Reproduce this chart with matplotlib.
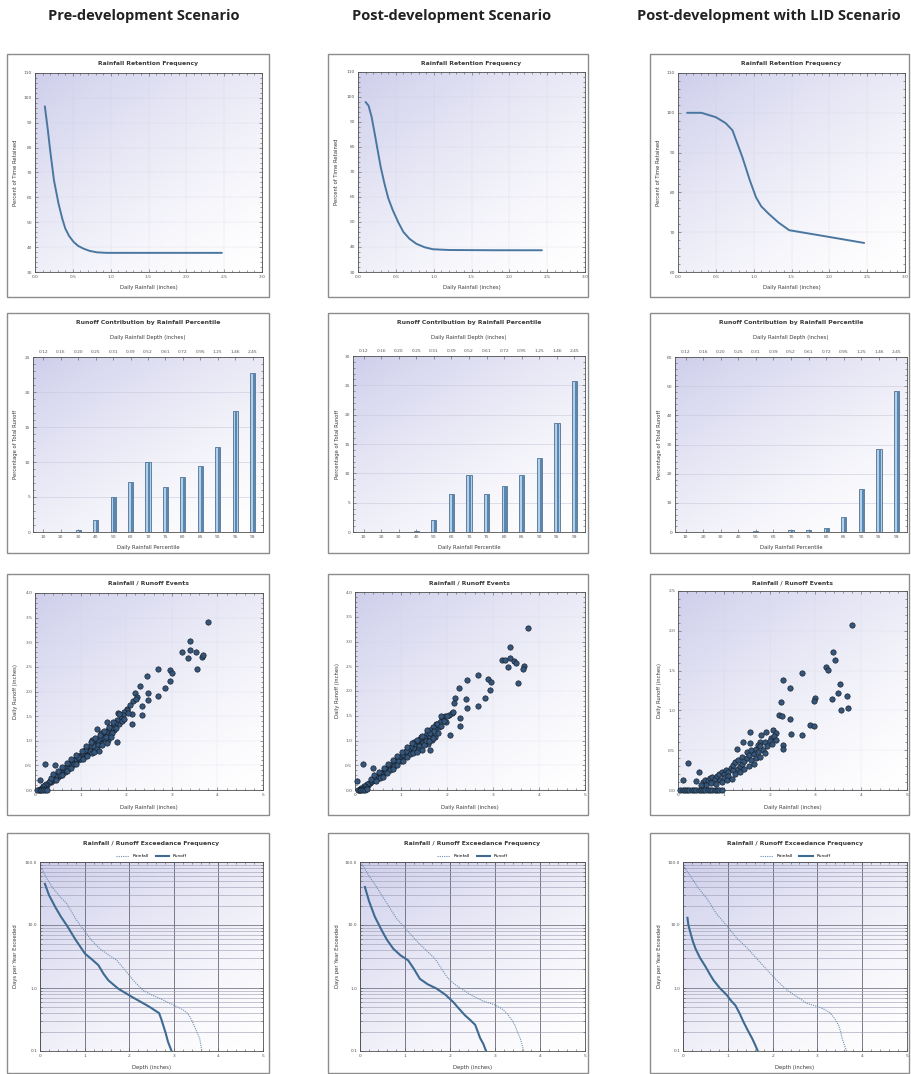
import matplotlib

matplotlib.use("Agg")
import matplotlib.pyplot as plt
import numpy as np
from matplotlib.colors import LinearSegmentedColormap
from matplotlib.lines import Line2D
from matplotlib.patches import Rectangle
from matplotlib.ticker import AutoMinorLocator, FixedLocator, FuncFormatter, LogLocator, MultipleLocator, NullFormatter

W, H = 911, 1074

scenarios = ["Pre-development Scenario", "Post-development Scenario", "Post-development with LID Scenario"]

# --- row 1: rainfall retention frequency
ret_pre_x = [0.13, 0.17, 0.20, 0.25, 0.31, 0.36, 0.40, 0.45, 0.51, 0.57, 0.64, 0.72, 0.82, 0.95, 1.2, 1.8, 2.47]
ret_pre_y = [96.6, 87, 79, 67, 57.6, 51.5, 47.5, 44.5, 42.1, 40.5, 39.4, 38.5, 37.9, 37.7, 37.7, 37.7, 37.7]
ret_post_x = [0.10, 0.14, 0.18, 0.22, 0.26, 0.30, 0.35, 0.40, 0.46, 0.53, 0.60, 0.68, 0.77, 0.88, 0.99, 1.2, 1.8, 2.43]
ret_post_y = [98, 96.5, 92, 85.5, 78.7, 72, 65.3, 59.5, 54.7, 50, 46, 43.3, 41.3, 39.9, 39.1, 38.8, 38.7, 38.7]
ret_lid_x = [0.12, 0.31, 0.50, 0.63, 0.72, 0.78, 0.85, 0.95, 1.03, 1.10, 1.20, 1.33, 1.47, 2.0, 2.46]
ret_lid_y = [100, 100, 98.9, 97.4, 95.6, 92.5, 88.9, 83.0, 78.8, 76.5, 74.6, 72.4, 70.5, 68.8, 67.3]
ret_ylims = [(30, 110), (30, 110), (60, 110)]

# --- row 2: runoff contribution by rainfall percentile
percentiles = ["10", "20", "30", "40", "50", "60", "70", "75", "80", "85", "90", "95", "99"]
depths = ["0.12", "0.16", "0.20", "0.25", "0.31", "0.39", "0.52", "0.61", "0.72", "0.95", "1.25", "1.46", "2.45"]
contrib_pre = [0.0, 0.05, 0.3, 1.65, 4.98, 7.2, 9.95, 6.5, 7.8, 9.5, 12.2, 17.3, 22.65]
contrib_post = [0.0, 0.05, 0.0, 0.15, 2.0, 6.5, 9.8, 6.4, 7.8, 9.7, 12.6, 18.6, 25.7]
contrib_lid = [0.0, 0.1, 0.0, 0.0, 0.3, 0.0, 0.6, 0.8, 1.4, 5.2, 14.9, 28.3, 48.5]
contrib_ymax = [25, 30, 60]
contrib_step = [5, 5, 10]

# --- row 3: rainfall / runoff events (rainfall, runoff)
events_pre = [
    (3.80, 3.41), (3.39, 3.03), (3.23, 2.80), (3.41, 2.85), (3.54, 2.80), (3.36, 2.68), (3.67, 2.70),
    (3.69, 2.75), (3.56, 2.45), (2.70, 2.46), (2.97, 2.43), (3.01, 2.38), (2.96, 2.22), (2.45, 2.32),
    (2.86, 2.07), (2.30, 2.11), (2.47, 1.97), (2.70, 1.91), (2.47, 1.82), (2.20, 1.97), (2.23, 1.89),
    (2.34, 1.70), (2.34, 1.52), (2.12, 1.55), (2.01, 1.64), (2.12, 1.35), (1.82, 1.57), (1.79, 0.98),
    (1.57, 1.38), (1.35, 1.23), (1.50, 1.03), (1.61, 1.01), (1.24, 1.01), (0.23, 0.53), (0.44, 0.50),
    (0.11, 0.20), (2.15, 1.80), (2.22, 1.85), (2.08, 1.72), (2.02, 1.63), (1.96, 1.58), (1.92, 1.52),
    (1.88, 1.47), (1.84, 1.34), (1.80, 1.42), (1.76, 1.36), (1.73, 1.22), (1.70, 1.30), (1.66, 1.26),
    (1.63, 1.12), (1.60, 1.21), (1.56, 1.17), (1.53, 1.03), (1.50, 1.12), (1.46, 1.08), (1.43, 0.95),
    (1.40, 1.04), (1.36, 1.00), (1.33, 0.88), (1.30, 0.96), (1.28, 0.93), (1.25, 0.82), (1.23, 0.90),
    (1.20, 0.87), (1.18, 0.77), (1.15, 0.84), (1.12, 0.81), (1.10, 0.70), (1.08, 0.78), (1.05, 0.75),
    (1.02, 0.65), (1.00, 0.72), (0.97, 0.69), (0.95, 0.60), (0.92, 0.66), (0.90, 0.63), (0.87, 0.55),
    (0.85, 0.60), (0.82, 0.57), (0.80, 0.49), (0.77, 0.54), (0.75, 0.52), (0.72, 0.43), (0.70, 0.48),
    (0.67, 0.45), (0.65, 0.37), (0.62, 0.42), (0.60, 0.40), (0.57, 0.31), (0.55, 0.36), (0.52, 0.34),
    (0.50, 0.27), (0.47, 0.31), (0.45, 0.28), (0.42, 0.21), (0.40, 0.25), (0.37, 0.22), (0.35, 0.17),
    (0.32, 0.19), (0.30, 0.16), (0.27, 0.10), (0.25, 0.13), (0.22, 0.11), (0.20, 0.06), (0.18, 0.08),
    (0.15, 0.05), (0.12, 0.02), (0.08, 0.00), (0.05, 0.00), (0.10, 0.00), (0.14, 0.00), (0.18, 0.00),
    (0.22, 0.00), (0.26, 0.01), (0.35, 0.24), (0.55, 0.30), (0.65, 0.44), (0.85, 0.52), (1.00, 0.62),
    (1.20, 0.80), (0.45, 0.20), (0.75, 0.45), (0.95, 0.68), (1.10, 0.82), (1.30, 0.90), (1.45, 1.15),
    (1.55, 1.08), (1.62, 1.28), (1.72, 1.38), (1.78, 1.25), (1.90, 1.40), (1.68, 1.16), (1.38, 0.92),
    (0.60, 0.30), (0.70, 0.38), (0.80, 0.44), (0.90, 0.52), (1.05, 0.62), (1.15, 0.70), (1.25, 0.76),
    (1.35, 0.84), (0.40, 0.32), (0.50, 0.38), (0.60, 0.47), (0.70, 0.55), (0.80, 0.62), (0.90, 0.72),
    (1.02, 0.80), (1.12, 0.90), (1.22, 0.98), (1.32, 1.05), (1.42, 1.12), (1.52, 1.20), (1.85, 1.55),
    (1.58, 0.96), (1.48, 0.92), (1.66, 1.08), (1.96, 1.45), (2.05, 1.56), (1.40, 0.80), (1.30, 0.78),
]
events_post = [
    (3.76, 3.28), (3.37, 2.89), (3.20, 2.63), (3.26, 2.63), (3.38, 2.67), (3.46, 2.61), (3.51, 2.57),
    (3.33, 2.49), (3.68, 2.50), (3.66, 2.45), (3.54, 2.17), (2.43, 2.22), (2.67, 2.32), (2.90, 2.25),
    (2.96, 2.18), (2.26, 2.06), (2.93, 2.02), (2.41, 1.83), (2.83, 1.85), (2.17, 1.85), (2.15, 1.75),
    (2.43, 1.65), (2.67, 1.69), (2.28, 1.46), (2.29, 1.29), (2.06, 1.11), (1.95, 1.49), (2.10, 1.55),
    (1.76, 1.34), (1.73, 1.08), (1.62, 0.81), (1.58, 0.92), (1.29, 0.97), (0.18, 0.52), (0.39, 0.45),
    (0.05, 0.19), (2.05, 1.52), (2.12, 1.57), (2.00, 1.50), (1.90, 1.44), (1.85, 1.38), (1.82, 1.27),
    (1.78, 1.33), (1.74, 1.24), (1.70, 1.28), (1.66, 1.14), (1.63, 1.22), (1.60, 1.10), (1.56, 1.15),
    (1.52, 1.02), (1.49, 1.08), (1.45, 0.96), (1.42, 1.04), (1.38, 0.92), (1.35, 0.98), (1.32, 0.86),
    (1.28, 0.91), (1.25, 0.82), (1.22, 0.86), (1.18, 0.76), (1.15, 0.80), (1.12, 0.70), (1.08, 0.74),
    (1.05, 0.66), (1.02, 0.70), (0.98, 0.62), (0.95, 0.65), (0.92, 0.56), (0.90, 0.61), (0.87, 0.52),
    (0.84, 0.55), (0.80, 0.47), (0.78, 0.51), (0.75, 0.44), (0.72, 0.46), (0.70, 0.40), (0.67, 0.42),
    (0.64, 0.36), (0.62, 0.38), (0.60, 0.32), (0.57, 0.34), (0.54, 0.29), (0.52, 0.30), (0.49, 0.25),
    (0.46, 0.26), (0.44, 0.21), (0.41, 0.23), (0.38, 0.18), (0.36, 0.19), (0.33, 0.14), (0.30, 0.15),
    (0.28, 0.11), (0.25, 0.12), (0.22, 0.08), (0.20, 0.09), (0.17, 0.05), (0.14, 0.04), (0.11, 0.02),
    (0.08, 0.01), (0.06, 0.00), (0.10, 0.00), (0.14, 0.00), (0.18, 0.00), (0.22, 0.00), (0.26, 0.02),
    (0.35, 0.22), (0.55, 0.25), (0.68, 0.36), (0.85, 0.49), (1.00, 0.58), (1.20, 0.72), (0.45, 0.18),
    (0.76, 0.40), (0.94, 0.58), (1.10, 0.78), (1.30, 0.82), (1.44, 1.08), (1.55, 0.98), (1.62, 1.16),
    (1.72, 1.20), (1.80, 1.15), (1.88, 1.30), (1.68, 1.02), (1.40, 0.88), (1.98, 1.38),
    (0.60, 0.27), (0.70, 0.35), (0.82, 0.42), (0.92, 0.50), (1.04, 0.58), (1.14, 0.66), (1.26, 0.74),
    (1.36, 0.80), (0.42, 0.30), (0.52, 0.36), (0.62, 0.44), (0.72, 0.52), (0.82, 0.60), (0.92, 0.68),
    (1.03, 0.77), (1.13, 0.86), (1.24, 0.94), (1.34, 1.02), (1.46, 1.10), (1.56, 1.22), (1.86, 1.50),
    (1.60, 0.98), (1.50, 0.90), (1.70, 1.06), (1.94, 1.40), (1.46, 0.80), (1.34, 0.76),
]
events_lid = [
    (3.80, 2.07), (3.39, 1.73), (3.42, 1.63), (3.23, 1.54), (3.27, 1.51), (2.70, 1.47), (2.30, 1.38),
    (2.45, 1.28), (3.53, 1.33), (3.49, 1.22), (3.69, 1.18), (3.36, 1.14), (3.00, 1.15), (2.96, 1.12),
    (2.25, 1.10), (3.56, 1.00), (3.71, 1.03), (2.21, 0.94), (2.26, 0.93), (2.45, 0.89), (2.88, 0.82),
    (2.96, 0.81), (2.08, 0.75), (2.15, 0.72), (2.46, 0.70), (2.70, 0.69), (1.57, 0.73), (1.82, 0.69),
    (1.93, 0.73), (2.04, 0.65), (2.30, 0.56), (2.30, 0.51), (1.58, 0.59), (1.79, 0.60), (1.41, 0.60),
    (1.28, 0.52), (0.22, 0.34), (0.45, 0.22), (0.11, 0.12), (0.40, 0.11), (0.55, 0.10), (0.60, 0.12),
    (0.65, 0.13), (0.70, 0.15), (0.75, 0.16), (0.80, 0.14), (0.85, 0.18), (0.90, 0.20), (0.92, 0.12),
    (0.95, 0.22), (1.00, 0.20), (1.00, 0.15), (1.05, 0.25), (1.10, 0.22), (1.10, 0.17), (1.15, 0.28),
    (1.20, 0.25), (1.20, 0.32), (1.25, 0.20), (1.25, 0.35), (1.30, 0.27), (1.30, 0.38), (1.35, 0.30),
    (1.35, 0.22), (1.40, 0.42), (1.40, 0.33), (1.45, 0.36), (1.45, 0.26), (1.50, 0.40), (1.50, 0.48),
    (1.55, 0.30), (1.55, 0.44), (1.60, 0.38), (1.60, 0.50), (1.65, 0.45), (1.65, 0.33), (1.70, 0.52),
    (1.70, 0.40), (1.75, 0.48), (1.75, 0.57), (1.80, 0.42), (1.80, 0.55), (1.85, 0.50), (1.90, 0.47),
    (1.90, 0.60), (1.95, 0.55), (2.00, 0.62), (2.05, 0.58), (2.10, 0.68), (2.15, 0.63), (0.62, 0.06),
    (0.72, 0.09), (0.82, 0.08), (0.97, 0.10), (1.08, 0.12), (1.18, 0.14), (0.50, 0.06), (0.05, 0.0),
    (0.10, 0.0), (0.15, 0.0), (0.20, 0.0), (0.25, 0.0), (0.30, 0.0), (0.35, 0.0), (0.40, 0.0),
    (0.45, 0.0), (0.50, 0.0), (0.55, 0.0), (0.60, 0.0), (0.65, 0.0), (0.70, 0.0), (0.75, 0.0),
    (0.80, 0.0), (0.85, 0.0), (0.90, 0.0), (0.95, 0.0),
]
events_ylims = [4.0, 4.0, 2.5]

# --- row 4: exceedance frequency (depth, days per year)
exc_rain_pre_x = [0.04, 0.15, 0.30, 0.45, 0.60, 0.80, 1.01, 1.15, 1.34, 1.55, 1.72, 1.94, 2.10, 2.31, 2.50,
                  2.69, 2.85, 2.99, 3.21, 3.30, 3.36, 3.42, 3.47, 3.53, 3.58, 3.63]
exc_rain_pre_y = [78, 55, 37.8, 28, 21.9, 12.5, 7.8, 5.8, 4.2, 3.3, 2.76, 1.8, 1.3, 0.92, 0.78,
                  0.68, 0.60, 0.54, 0.45, 0.40, 0.35, 0.29, 0.24, 0.19, 0.158, 0.1]
exc_run_pre_x = [0.11, 0.20, 0.34, 0.47, 0.60, 0.80, 1.01, 1.15, 1.31, 1.42, 1.53, 1.75, 2.05, 2.30, 2.46,
                 2.60, 2.67, 2.72, 2.76, 2.82, 2.87, 2.95]
exc_run_pre_y = [45, 30, 19.4, 13.5, 9.9, 5.8, 3.5, 2.9, 2.3, 1.7, 1.33, 0.98, 0.73, 0.58, 0.50,
                 0.43, 0.40, 0.32, 0.26, 0.19, 0.14, 0.1]
exc_rain_post_x = [0.04, 0.20, 0.37, 0.60, 0.80, 1.04, 1.30, 1.50, 1.67, 1.93, 2.10, 2.30, 2.50, 2.74, 3.00,
                   3.15, 3.26, 3.36, 3.44, 3.50, 3.56, 3.64]
exc_rain_post_y = [94, 60, 40, 22, 13, 8.3, 5.2, 3.8, 2.9, 1.5, 1.15, 0.92, 0.75, 0.62, 0.54,
                   0.47, 0.40, 0.32, 0.26, 0.20, 0.16, 0.1]
exc_run_post_x = [0.11, 0.20, 0.33, 0.48, 0.60, 0.74, 0.90, 1.07, 1.20, 1.33, 1.50, 1.70, 1.90, 2.07, 2.20,
                  2.33, 2.45, 2.56, 2.62, 2.67, 2.74, 2.80]
exc_run_post_y = [40, 24, 13.5, 8.3, 5.8, 4.2, 3.3, 2.75, 2.0, 1.4, 1.15, 0.98, 0.78, 0.60, 0.47,
                  0.37, 0.31, 0.26, 0.20, 0.16, 0.13, 0.1]
exc_rain_lid_x = [0.03, 0.20, 0.35, 0.54, 0.75, 1.00, 1.20, 1.45, 1.65, 2.02, 2.15, 2.32, 2.55, 2.77, 3.03,
                  3.18, 3.29, 3.38, 3.47, 3.52, 3.55, 3.65]
exc_rain_lid_y = [83, 55, 38, 26, 15, 9.3, 6.2, 4.2, 2.9, 1.5, 1.2, 0.93, 0.72, 0.57, 0.50,
                  0.45, 0.40, 0.33, 0.26, 0.20, 0.16, 0.1]
exc_run_lid_x = [0.10, 0.12, 0.16, 0.22, 0.28, 0.38, 0.50, 0.60, 0.68, 0.82, 0.98, 1.08, 1.17, 1.26, 1.35,
                 1.45, 1.54, 1.60, 1.67]
exc_run_lid_y = [13, 10, 7.8, 5.5, 4.2, 3.0, 2.2, 1.65, 1.33, 1.0, 0.77, 0.62, 0.53, 0.40, 0.29,
                 0.21, 0.16, 0.13, 0.1]

# layout in pixels
col_box = [(7, 269), (328, 588), (650, 909)]
row_box = [(54, 297), (313, 553), (574, 815), (833, 1073)]
axes_px = [
    [(35, 73, 262, 272), (358, 72, 585, 272), (678, 73, 905, 272)],
    [(33, 357, 263, 532), (353, 356, 585, 532), (675, 357, 907, 532)],
    [(35, 593, 263, 790), (355, 592, 585, 790), (678, 591, 907, 790)],
    [(40, 862, 263, 1051), (360, 862, 585, 1051), (683, 862, 907, 1051)],
]
header_x = [144, 452, 769]

LINE = "#4a77a0"
grad_cmap = LinearSegmentedColormap.from_list("bg", ["#ffffff", "#cfcfec"])


def frac(l, t, r, b):
    return [l / W, 1 - b / H, (r - l) / W, (b - t) / H]


def fx(x):
    return x / W


def fy(y):
    return 1 - y / H


def panel_axes(fig, rect_px):
    rect = frac(*rect_px)
    bg = fig.add_axes(rect, zorder=0)
    xx, yy = np.meshgrid(np.linspace(0, 1, 120), np.linspace(1, 0, 120))
    bg.imshow((0.55 * yy + 0.45 * (1 - xx)) ** 1.4, cmap=grad_cmap, aspect="auto", vmin=0, vmax=1)
    bg.axis("off")
    ax = fig.add_axes(rect, zorder=1)
    ax.patch.set_alpha(0)
    for s in ax.spines.values():
        s.set_color("#505050")
        s.set_linewidth(0.6)
    ax.tick_params(which="both", direction="in", top=True, right=True, labelsize=3.2,
                   labelcolor="#555555", color="#505050", width=0.4, pad=2)
    ax.tick_params(which="major", length=2.5)
    ax.tick_params(which="minor", length=1.2)
    return ax


def labels(fig, rect_px, col, title, xlabel, ylabel, title_y, xlabel_y):
    l, t, r, b = rect_px
    cx = (l + r) / 2
    fig.text(fx(cx), fy(title_y), title, fontsize=4.4, fontweight="bold", color="#3a3a3a",
             ha="center", va="center")
    fig.text(fx(cx), fy(xlabel_y), xlabel, fontsize=3.8, color="#3a3a3a", ha="center", va="center")
    fig.text(fx(col_box[col][0] + 9), fy((t + b) / 2), ylabel, fontsize=3.8, color="#3a3a3a",
             ha="center", va="center", rotation=90)


fig = plt.figure(figsize=(W / 100, H / 100), dpi=100)

for c, name in enumerate(scenarios):
    fig.text(fx(header_x[c]), fy(16), name, fontsize=10.5, fontweight="bold", family="Open Sans",
             color="#222222", ha="center", va="center")
    for r in range(4):
        x0, x1 = col_box[c]
        y0, y1 = row_box[r]
        fig.patches.append(Rectangle((fx(x0), fy(y1)), fx(x1 - x0), (y1 - y0) / H, transform=fig.transFigure,
                                     facecolor="white", edgecolor="#8c8c8c", linewidth=1.0, zorder=-1))

# row 1
ret_series = [(ret_pre_x, ret_pre_y), (ret_post_x, ret_post_y), (ret_lid_x, ret_lid_y)]
for c, (xs, ys) in enumerate(ret_series):
    ax = panel_axes(fig, axes_px[0][c])
    ax.plot(xs, ys, color=LINE, linewidth=1.4, solid_capstyle="round")
    ax.set_xlim(0, 3.0)
    ax.set_ylim(*ret_ylims[c])
    ax.xaxis.set_major_locator(MultipleLocator(0.5))
    ax.yaxis.set_major_locator(MultipleLocator(10))
    ax.xaxis.set_minor_locator(AutoMinorLocator(5))
    ax.yaxis.set_minor_locator(AutoMinorLocator(5))
    ax.xaxis.set_major_formatter(FuncFormatter(lambda v, p: f"{v:.1f}"))
    ax.yaxis.set_major_formatter(FuncFormatter(lambda v, p: f"{v:.0f}"))
    ax.grid(True, color="#c9c9dd", linewidth=0.3, linestyle=(0, (2, 2)))
    labels(fig, axes_px[0][c], c, "Rainfall Retention Frequency", "Daily Rainfall (inches)",
           "Percent of Time Retained", 64, 288)

# row 2
contrib = [contrib_pre, contrib_post, contrib_lid]
pos = np.arange(len(percentiles))
for c, vals in enumerate(contrib):
    ax = panel_axes(fig, axes_px[1][c])
    ax.bar(pos, vals, width=0.3, color="#b2d0ea", edgecolor="#35597c", linewidth=0.5, zorder=3)
    ax.bar(pos + 0.075, vals, width=0.12, color="#5888b2", linewidth=0, zorder=4)
    ax.set_xlim(-0.6, len(percentiles) - 0.4)
    ax.set_ylim(0, contrib_ymax[c])
    ax.set_xticks(pos)
    ax.set_xticklabels(percentiles)
    ax.yaxis.set_major_locator(MultipleLocator(contrib_step[c]))
    ax.yaxis.set_minor_locator(AutoMinorLocator(5))
    ax.tick_params(axis="x", top=False)
    ax.grid(True, axis="y", color="#c9c9dd", linewidth=0.4)
    top = ax.twiny()
    top.set_xlim(ax.get_xlim())
    top.set_xticks(pos)
    top.set_xticklabels(depths)
    top.tick_params(direction="in", labelsize=3.2, labelcolor="#555555", color="#505050", width=0.4,
                    length=2.5, pad=2)
    for s in top.spines.values():
        s.set_visible(False)
    l, t, r, b = axes_px[1][c]
    fig.text(fx((l + r) / 2), fy(337), "Daily Rainfall Depth (inches)", fontsize=3.8, color="#3a3a3a",
             ha="center", va="center")
    labels(fig, axes_px[1][c], c, "Runoff Contribution by Rainfall Percentile", "Daily Rainfall Percentile",
           "Percentage of Total Runoff", 323, 548)

# row 3
events = [events_pre, events_post, events_lid]
for c, ev in enumerate(events):
    ax = panel_axes(fig, axes_px[2][c])
    xs = [e[0] for e in ev]
    ys = [e[1] for e in ev]
    ax.scatter(xs, ys, s=15, facecolor="#35567a", edgecolor="#141c26", linewidth=0.45, zorder=3, clip_on=False)
    ax.set_xlim(0, 5)
    ax.set_ylim(0, events_ylims[c])
    ax.xaxis.set_major_locator(MultipleLocator(1))
    ax.yaxis.set_major_locator(MultipleLocator(0.5))
    ax.xaxis.set_minor_locator(AutoMinorLocator(5))
    ax.yaxis.set_minor_locator(AutoMinorLocator(5))
    ax.xaxis.set_major_formatter(FuncFormatter(lambda v, p: f"{v:.0f}"))
    ax.yaxis.set_major_formatter(FuncFormatter(lambda v, p: f"{v:.1f}"))
    ax.grid(True, color="#d0d0e2", linewidth=0.3, linestyle=(0, (2, 2)))
    labels(fig, axes_px[2][c], c, "Rainfall / Runoff Events", "Daily Rainfall (inches)",
           "Daily Runoff (inches)", 583, 808)

# row 4
exceed = [
    (exc_rain_pre_x, exc_rain_pre_y, exc_run_pre_x, exc_run_pre_y),
    (exc_rain_post_x, exc_rain_post_y, exc_run_post_x, exc_run_post_y),
    (exc_rain_lid_x, exc_rain_lid_y, exc_run_lid_x, exc_run_lid_y),
]
for c, (rx, ry, ux, uy) in enumerate(exceed):
    ax = panel_axes(fig, axes_px[3][c])
    ax.set_yscale("log")
    ax.plot(rx, ry, color="#6d8fb0", linewidth=0.8, linestyle=(0, (1, 1)), zorder=3)
    ax.plot(ux, uy, color="#3f6a91", linewidth=1.5, zorder=4)
    ax.set_xlim(0, 5)
    ax.set_ylim(0.1, 100)
    ax.xaxis.set_major_locator(MultipleLocator(1))
    ax.xaxis.set_minor_locator(AutoMinorLocator(5))
    ax.xaxis.set_major_formatter(FuncFormatter(lambda v, p: f"{v:.0f}"))
    ax.yaxis.set_major_locator(FixedLocator([0.1, 1, 10, 100]))
    ax.yaxis.set_major_formatter(FuncFormatter(lambda v, p: f"{v:.1f}"))
    ax.yaxis.set_minor_locator(LogLocator(base=10, subs=np.arange(2, 10)))
    ax.yaxis.set_minor_formatter(NullFormatter())
    ax.grid(True, which="major", axis="x", color="#666677", linewidth=0.6)
    ax.grid(True, which="major", axis="y", color="#77778c", linewidth=0.6)
    ax.grid(True, which="minor", axis="y", color="#9a9ab0", linewidth=0.4)
    handles = [Line2D([], [], color="#6d8fb0", linewidth=0.8, linestyle=(0, (1, 1))),
               Line2D([], [], color="#3f6a91", linewidth=1.5)]
    ax.legend(handles, ["Rainfall", "Runoff"], loc="lower center", bbox_to_anchor=(0.5, 1.005), ncol=2,
              frameon=False, fontsize=3.2, handlelength=3, columnspacing=1.5, borderpad=0.1)
    labels(fig, axes_px[3][c], c, "Rainfall / Runoff Exceedance Frequency", "Depth (inches)",
           "Days per Year Exceeded", 843, 1067)

fig.savefig("out.png", dpi=100, facecolor="white")
